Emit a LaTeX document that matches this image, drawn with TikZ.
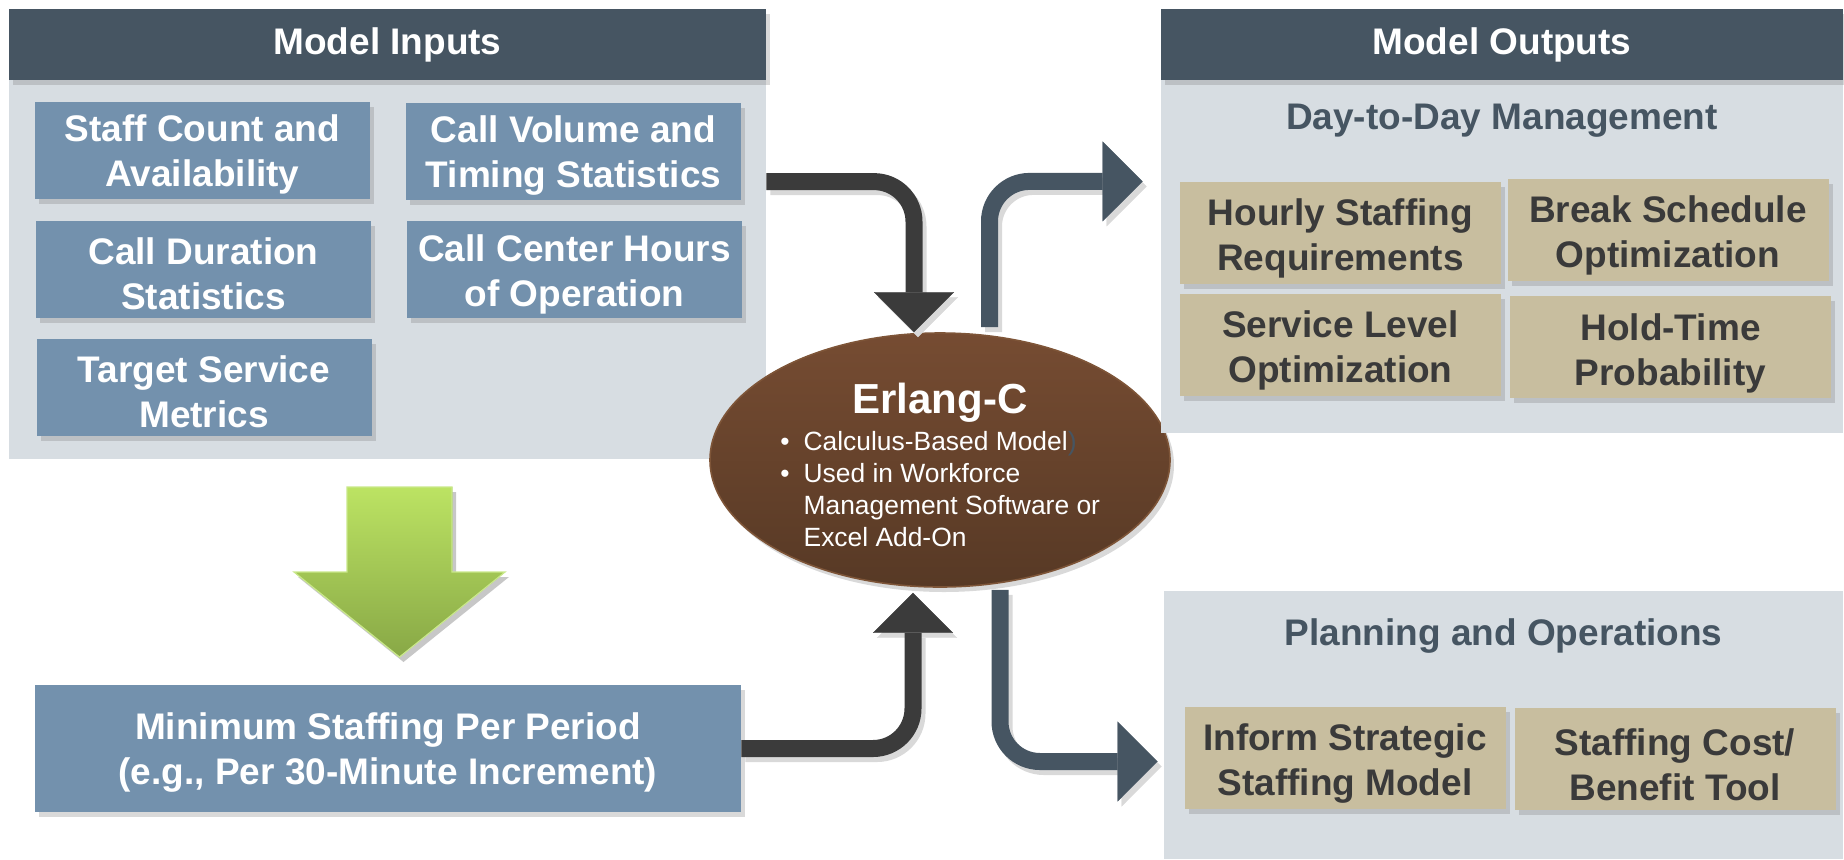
\documentclass[tikz,border=0pt]{standalone}
\usepackage{fontspec}
\setmainfont{Liberation Sans}
\usetikzlibrary{%
  arrows.meta,%
  positioning,%
  shadows,%
  shapes.geometric% wg. ellipse
}

\definecolor{slate}{HTML}{465562}
\definecolor{panelgray}{HTML}{D7DDE2}
\definecolor{steel}{HTML}{7391AD}
\definecolor{khaki}{HTML}{C8BE9F}
\definecolor{inkdark}{HTML}{3A3A3A}
\definecolor{arrowdark}{HTML}{3B3B3B}
\definecolor{browntop}{HTML}{764C32}
\definecolor{brownbot}{HTML}{573925}
\definecolor{brownedge}{HTML}{7E5538}
\definecolor{greentop}{HTML}{BCE363}
\definecolor{greenbot}{HTML}{88A846}
\definecolor{greenedge}{HTML}{C9E88A}

\newcommand{\boxfont}{\fontsize{18.5}{22.5}\selectfont\bfseries}
% taller first line pushes the two lines down a little
\newcommand{\inlead}{\rule{0pt}{18pt}}
\newcommand{\outlead}{\rule{0pt}{19.5pt}}

\tikzset{
  softshadow/.style={drop shadow={shadow xshift=2pt,shadow yshift=-2.5pt,opacity=.3}},
  header/.style={fill=slate, text=white, font=\boxfont, inner sep=0pt,
    minimum height=35.5pt, softshadow},
  panel/.style={fill=panelgray, inner sep=0pt},
  subtitle/.style={text=slate, font=\boxfont},
  inbox/.style={fill=steel, text=white, font=\boxfont, align=center, inner sep=0pt,
    minimum width=167.5pt, minimum height=48.5pt, softshadow},
  outbox/.style={fill=khaki, text=inkdark, font=\boxfont, align=center, inner sep=0pt,
    minimum width=160.5pt, minimum height=51pt, softshadow},
  flow/.style={line width=8.5pt, rounded corners=20pt,
    -{Triangle[width=40pt,length=20pt,line width=.1pt]}},
  flowshadow/.style={flow, draw=black!15, transform canvas={xshift=2pt,yshift=-2.5pt}}
}

\begin{document}
\begin{tikzpicture}[x=0.5pt,y=-0.5pt]
  \useasboundingbox (0,0) rectangle (1844,859);

  %inputs
  \node[panel, minimum width=378.5pt, minimum height=189.5pt] (inpanel) at (387.5,269.5) {};
  \node[header, minimum width=378.5pt] (inhead) at (387.5,44.5) {Model Inputs};
  \node[inbox] (staff) at (202.5,150) {\inlead Staff Count and\\Availability};
  \node[inbox] (volume) at (573.5,151) {\inlead Call Volume and\\Timing Statistics};
  \node[inbox] (duration) at (203.5,269.5) {\inlead Call Duration\\Statistics};
  \node[inbox] (hours) at (574.5,269.5) {\inlead Call Center Hours\\of Operation};
  \node[inbox] (target) at (204,387) {\inlead Target Service\\Metrics};

  %green down arrow
  \fill[black!22, transform canvas={xshift=2pt,yshift=-2.5pt}]
    (347,487) -- (452,487) -- (452,572) -- (505,572) -- (399.5,657) -- (294,572) -- (347,572) -- cycle;
  \fill[top color=greentop, bottom color=greenbot, draw=greenedge, line width=.6pt]
    (347,487) -- (452,487) -- (452,572) -- (505,572) -- (399.5,657) -- (294,572) -- (347,572) -- cycle;

  \node[inbox, minimum width=353pt, minimum height=63.5pt] (minstaff) at (388,748.5)
    {\rule{0pt}{17pt}Minimum Staffing Per Period\\(e.g., Per 30-Minute Increment)};

  %model
  \node[ellipse, minimum width=230pt, minimum height=127pt, top color=browntop,
    bottom color=brownbot, draw=brownedge, line width=.8pt, softshadow] (erlang) at (940,460) {};
  \node[anchor=base, inner sep=0pt, text=white, font=\fontsize{21}{25}\selectfont\bfseries]
    (erlangtitle) at ([yshift=23.5pt]erlang.center) {Erlang-C};
  \node[anchor=base west, inner sep=0pt, text=white, font=\fontsize{13.2}{16}\selectfont]
    (erlangnotes) at ([xshift=-80pt,yshift=5pt]erlang.center)
    {\begin{tabular}[t]{@{}l@{\hspace{7pt}}l@{}}
      \textbullet & Calculus-Based Model\textcolor{slate}{)}\\
      \textbullet & Used in Workforce\\
                  & Management Software or\\
                  & Excel Add-On
    \end{tabular}};

  %outputs
  \node[panel, minimum width=341pt, minimum height=176.5pt] (daypanel) at (1502,256.5) {};
  \node[header, minimum width=341pt] (outhead) at (1502,44.5) {Model Outputs};
  \node[subtitle] (daytitle) at ([yshift=-20pt]outhead.south) {Day-to-Day Management};
  \node[outbox] (hourly) at (1340.5,232.5) {\outlead Hourly Staffing\\Requirements};
  \node[outbox] (breaks) at (1668,229.5) {\outlead Break Schedule\\Optimization};
  \node[outbox] (service) at (1340.5,344.5) {\outlead Service Level\\Optimization};
  \node[outbox] (hold) at (1670.5,347) {\outlead Hold-Time\\Probability};

  \node[panel, minimum width=339.5pt, minimum height=134pt] (planpanel) at (1503.5,725) {};
  \node[subtitle] (plantitle) at ([yshift=-22.5pt]planpanel.north) {Planning and Operations};
  \node[outbox] (inform) at (1345,757.5) {\outlead Inform Strategic\\Staffing Model};
  \node[outbox] (cost) at (1675,758.5) {\outlead Staffing Cost/\\Benefit Tool};

  %connectors, shadow first
  \draw[flowshadow] ([yshift=-51pt]inpanel.north east) -| ([xshift=-13pt]erlang.north);
  \draw[flowshadow] ([xshift=24.75pt,yshift=2.5pt]erlang.north) |- ([xshift=-9pt,yshift=-50.5pt]outhead.south west);
  \draw[flowshadow] (minstaff.east) -| ([xshift=-13.5pt,yshift=-2.5pt]erlang.south);
  \draw[flowshadow] ([xshift=30pt,yshift=-1pt]erlang.south) |- ([xshift=-3pt,yshift=-18.25pt]planpanel.west);

  \draw[flow, draw=arrowdark] ([yshift=-51pt]inpanel.north east) -| ([xshift=-13pt]erlang.north);
  \draw[flow, draw=slate] ([xshift=24.75pt,yshift=2.5pt]erlang.north) |- ([xshift=-9pt,yshift=-50.5pt]outhead.south west);
  \draw[flow, draw=arrowdark] (minstaff.east) -| ([xshift=-13.5pt,yshift=-2.5pt]erlang.south);
  \draw[flow, draw=slate] ([xshift=30pt,yshift=-1pt]erlang.south) |- ([xshift=-3pt,yshift=-18.25pt]planpanel.west);
\end{tikzpicture}
\end{document}
